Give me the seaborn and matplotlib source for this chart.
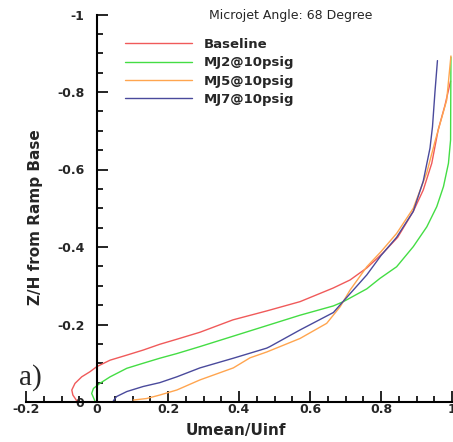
"""Velocity profiles above the ramp base, microjet angle 68 degree."""

import matplotlib

matplotlib.use("Agg")
import matplotlib.pyplot as plt
import pandas as pd
import seaborn as sns
from matplotlib.ticker import MultipleLocator

# Umean/Uinf (x) against Z/H (y)
base_u = [-0.057, -0.068, -0.071, -0.062, -0.043, -0.020, -0.001, 0.037, 0.084, 0.130,
          0.177, 0.225, 0.290, 0.383, 0.478, 0.572, 0.665, 0.713, 0.760, 0.806, 0.847,
          0.891, 0.919, 0.943, 0.961, 0.980, 0.996]
base_z = [-0.003, -0.018, -0.031, -0.048, -0.065, -0.078, -0.091, -0.108, -0.121, -0.134,
          -0.149, -0.162, -0.180, -0.212, -0.235, -0.259, -0.294, -0.315, -0.346, -0.385, -0.425,
          -0.492, -0.547, -0.616, -0.702, -0.765, -0.828]

mj2_u = [-0.006, -0.015, -0.010, 0.008, 0.037, 0.084, 0.130, 0.177, 0.225, 0.290, 0.384,
         0.478, 0.572, 0.666, 0.694, 0.760, 0.797, 0.844, 0.891, 0.929, 0.957, 0.976,
         0.990, 0.996, 0.997]
mj2_z = [-0.003, -0.022, -0.035, -0.048, -0.065, -0.087, -0.100, -0.113, -0.125, -0.143, -0.170,
         -0.197, -0.224, -0.248, -0.259, -0.292, -0.319, -0.349, -0.401, -0.452, -0.504, -0.556,
         -0.616, -0.676, -0.890]

mj5_u = [0.102, 0.140, 0.177, 0.225, 0.290, 0.384, 0.431, 0.478, 0.572, 0.647, 0.685,
         0.713, 0.760, 0.800, 0.844, 0.891, 0.929, 0.952, 0.985, 0.997]
mj5_z = [-0.005, -0.009, -0.018, -0.031, -0.057, -0.088, -0.114, -0.129, -0.164, -0.203, -0.246,
         -0.289, -0.349, -0.388, -0.435, -0.500, -0.592, -0.672, -0.779, -0.893]

mj7_u = [0.046, 0.055, 0.084, 0.130, 0.177, 0.225, 0.290, 0.384, 0.478, 0.487, 0.572,
         0.666, 0.689, 0.760, 0.800, 0.844, 0.891, 0.919, 0.938, 0.945, 0.952, 0.959]
mj7_z = [-0.003, -0.014, -0.027, -0.040, -0.050, -0.065, -0.088, -0.113, -0.139, -0.143, -0.186,
         -0.231, -0.255, -0.328, -0.378, -0.425, -0.492, -0.570, -0.655, -0.710, -0.800, -0.881]

series = ["Baseline", "MJ2@10psig", "MJ5@10psig", "MJ7@10psig"]
colors = {"Baseline": "#f05a5a", "MJ2@10psig": "#44dd44",
          "MJ5@10psig": "#ffa54f", "MJ7@10psig": "#4a4a9c"}

frames = []
for name, u, z in zip(series, [base_u, mj2_u, mj5_u, mj7_u], [base_z, mj2_z, mj5_z, mj7_z]):
    frames.append(pd.DataFrame({"u": u, "z": z, "case": name}))
df = pd.concat(frames, ignore_index=True)

sns.set_style("white")
plt.rcParams["font.family"] = ["DejaVu Sans"]

fig = plt.figure(figsize=(4.53, 4.42), dpi=100)
ax = fig.add_axes([26 / 453, 40 / 442, 426 / 453, 387.5 / 442])

sns.lineplot(data=df, x="u", y="z", hue="case", hue_order=series, palette=colors,
             sort=False, estimator=None, units="case", linewidth=1.0, ax=ax)

ax.set_xlim(-0.2, 1.0)
ax.set_ylim(0, -1)

ax.spines["left"].set_position(("data", 0))
ax.spines["top"].set_visible(False)
ax.spines["right"].set_visible(False)
for s in ("left", "bottom"):
    ax.spines[s].set_linewidth(1.5)
    ax.spines[s].set_color("black")

ax.xaxis.set_minor_locator(MultipleLocator(0.05))
ax.yaxis.set_minor_locator(MultipleLocator(0.05))
ax.set_xticks([-0.2, 0, 0.2, 0.4, 0.6, 0.8, 1.0], ["-0.2", "0", "0.2", "0.4", "0.6", "0.8", "1"])
ax.set_yticks([0, -0.2, -0.4, -0.6, -0.8, -1.0], ["0", "-0.2", "-0.4", "-0.6", "-0.8", "-1"])
ax.tick_params(which="both", direction="in", color="black", width=1.2,
               bottom=True, left=True, labelsize=9)
ax.tick_params(which="major", length=8)
ax.tick_params(which="minor", length=4.5)
ax.tick_params(axis="x", pad=1)
ax.tick_params(axis="y", pad=9)
for lab in ax.get_xticklabels() + ax.get_yticklabels():
    lab.set_fontweight("bold")

ax.set_xlabel("Umean/Uinf", fontsize=11, fontweight="bold")
ax.set_ylabel("Z/H from Ramp Base", fontsize=11, fontweight="bold")
ax.xaxis.set_label_coords(0.493, -0.054)
ax.yaxis.set_label_coords(0.04, 0.477)

ax.legend(loc="upper left", bbox_to_anchor=(125 / 453, 1 - 38 / 442),
          bbox_transform=fig.transFigure, frameon=False, borderpad=0, borderaxespad=0,
          handlelength=5.1, handletextpad=0.9, labelspacing=0.40,
          prop={"weight": "bold", "size": 9.5})

fig.text(291 / 453, 1 - 15 / 442, "Microjet Angle: 68 Degree", ha="center", va="center",
         fontsize=9)
fig.text(19 / 453, 1 - 378 / 442, "a)", ha="left", va="center",
         fontsize=21, family="Liberation Serif")

fig.savefig("out.png", dpi=100)
